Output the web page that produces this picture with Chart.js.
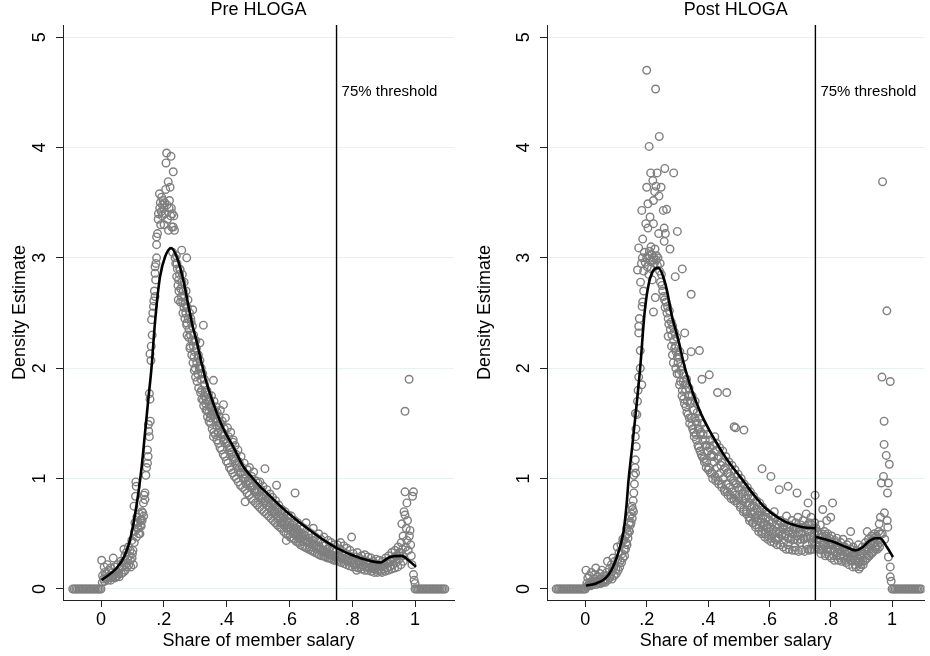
<!DOCTYPE html>
<html>
<head>
<meta charset="utf-8">
<script src="https://cdn.jsdelivr.net/npm/chart.js@4.4.1/dist/chart.umd.min.js"></script>
<style>
  html, body { margin: 0; padding: 0; background: #fff; }
  #wrap { position: relative; width: 930px; height: 656px; overflow: hidden; }
  canvas { position: absolute; top: 0; }
</style>
</head>
<body>
<div id="wrap">
  <canvas id="preChart" width="465" height="656" style="left:0"></canvas>
  <canvas id="postChart" width="465" height="656" style="left:465px"></canvas>
</div>
<script>
// tick values and the cut-off
const xTickValues = [0, 0.2, 0.4, 0.6, 0.8, 1];
const yTickValues = [0, 1, 2, 3, 4, 5];
const threshold = 0.75;
const thresholdText = "75% threshold";

// Pre HLOGA: binned density points [share, density]
const preZeroLeft = [-0.09,-0.085,-0.08,-0.075,-0.07,-0.065,-0.06,-0.055,-0.05,-0.045,-0.04,-0.035,-0.03,-0.025,-0.02,-0.015,-0.01,-0.005,0];
const preZeroRight = [1.0,1.005,1.01,1.015,1.02,1.025,1.03,1.035,1.04,1.045,1.05,1.055,1.06,1.065,1.07,1.075,1.08,1.085,1.09,1.095];
const prePoints = [
  [0.002,0.26],[0.005,0.12],[0.008,0.09],[0.01,0.2],[0.012,0.15],[0.015,0.1],[0.018,0.14],[0.02,0.22],[0.022,0.08],[0.025,0.17],
  [0.028,0.12],[0.03,0.19],[0.033,0.1],[0.036,0.15],[0.039,0.28],[0.041,0.13],[0.044,0.2],[0.047,0.11],[0.05,0.16],[0.053,0.22],
  [0.056,0.14],[0.06,0.18],[0.063,0.25],[0.066,0.2],[0.07,0.24],[0.073,0.36],[0.076,0.3],[0.078,0.22],[0.081,0.33],[0.084,0.27],
  [0.087,0.38],[0.09,0.3],[0.093,0.35],[0.095,0.2],[0.098,0.44],[0.1,0.32],[0.103,0.22],[0.105,0.75],[0.107,0.52],
  [0.108,0.6],[0.11,0.84],[0.111,0.97],[0.112,0.93],[0.114,0.65],[0.116,0.55],[0.118,0.6],[0.12,0.5],[0.122,0.68],[0.124,0.5],
  [0.125,0.62],[0.127,0.63],[0.128,0.57],[0.13,0.7],[0.133,0.69],[0.135,0.78],[0.137,0.85],[0.14,0.87],[0.14,0.81],[0.143,1.03],
  [0.145,1.1],[0.148,1.14],[0.148,1.26],[0.15,1.2],[0.151,1.49],[0.152,1.43],[0.154,1.38],[0.154,1.77],[0.156,1.72],[0.157,1.52],
  [0.159,2.07],[0.156,2.13],[0.161,2.44],[0.16,2.2],
  [0.163,2.3],[0.165,2.5],[0.167,2.56],[0.168,2.61],[0.17,2.7],[0.172,2.65],[0.172,2.92],[0.172,2.86],[0.174,2.8],[0.175,2.95],
  [0.177,3.0],[0.177,3.12],[0.177,3.19],[0.18,3.22],[0.182,3.35],[0.183,3.4],[0.186,3.58],[0.187,3.45],[0.189,3.5],[0.19,3.3],
  [0.192,3.42],[0.193,3.55],[0.195,3.38],[0.196,3.48],[0.198,3.52],[0.2,3.45],[0.201,3.3],[0.203,3.5],[0.204,3.4],[0.206,3.62],
  [0.207,3.86],[0.209,3.95],[0.21,3.48],[0.212,3.35],[0.214,3.69],[0.215,3.25],[0.217,3.45],[0.218,3.52],[0.22,3.64],[0.222,3.38],
  [0.223,3.92],[0.224,3.45],[0.225,3.28],[0.227,3.4],[0.228,3.05],[0.23,3.78],[0.23,3.28],[0.232,3.38],[0.234,3.25],[0.236,3.0],
  [0.238,2.95],[0.24,3.02],
  [0.241,2.83],[0.243,2.9],[0.245,2.75],[0.247,2.8],[0.248,2.7],[0.25,2.85],[0.252,2.89],[0.254,2.72],[0.257,3.07],[0.256,2.65],
  [0.258,2.78],[0.26,2.6],[0.262,2.7],[0.264,2.55],[0.266,2.65],[0.268,2.58],[0.27,2.5],[0.273,3.0],[0.273,2.39],[0.273,2.41],
  [0.275,2.55],[0.278,2.45],[0.28,2.35],[0.283,2.18],[0.285,2.3],[0.287,2.42],[0.29,2.25],[0.292,2.53],[0.294,2.2],[0.296,2.1],
  [0.298,2.15],[0.3,2.0],[0.302,2.25],[0.305,2.05],[0.308,1.95],[0.31,2.12],[0.313,2.0],[0.315,2.07],[0.315,2.23],[0.318,1.9],
  [0.32,1.8],[0.322,1.95],[0.326,2.39],[0.326,1.71],[0.328,1.75],[0.33,1.85],[0.333,1.68],[0.335,1.72],[0.338,1.62],[0.34,1.7],
  [0.343,1.6],[0.345,1.65],[0.348,1.55],[0.35,1.58],
  [0.352,1.75],[0.355,1.62],[0.358,1.89],[0.358,1.38],[0.36,1.7],[0.363,1.55],[0.366,1.65],[0.368,1.48],[0.37,1.6],[0.373,1.42],
  [0.376,1.56],[0.378,1.5],[0.38,1.62],[0.383,1.4],[0.386,1.52],[0.39,1.67],[0.39,1.35],[0.393,1.45],[0.396,1.55],[0.4,1.32],
  [0.403,1.46],[0.406,1.38],[0.41,1.28],[0.413,1.42],[0.416,1.22],[0.42,1.33],[0.421,1.35],[0.424,1.18],[0.427,1.3],[0.43,1.22],
  [0.433,1.12],[0.436,1.26],[0.44,1.15],[0.443,1.05],[0.446,1.2],[0.45,1.1],[0.453,1.0],[0.456,1.14],[0.459,0.79],[0.46,1.04],
  [0.463,0.95],[0.466,1.08],[0.47,0.98],[0.473,1.1],[0.476,0.92],[0.48,1.02],[0.483,0.94],[0.486,1.06],[0.49,0.88],[0.493,0.98],
  [0.496,0.9],[0.5,0.96],
  [0.503,0.85],[0.506,0.97],[0.51,0.9],[0.513,0.82],[0.516,0.93],[0.52,0.85],[0.522,1.09],[0.525,0.78],[0.528,0.9],[0.531,0.82],
  [0.535,0.75],[0.538,0.86],[0.54,0.78],[0.543,0.7],[0.546,0.83],[0.55,0.76],[0.553,0.68],[0.556,0.8],[0.559,0.94],[0.56,0.72],
  [0.563,0.64],[0.566,0.76],[0.57,0.68],[0.573,0.6],[0.576,0.72],[0.58,0.65],[0.583,0.58],[0.586,0.7],[0.59,0.44],[0.59,0.62],
  [0.593,0.55],[0.596,0.67],[0.6,0.6],[0.603,0.53],[0.606,0.66],[0.61,0.58],[0.613,0.5],[0.618,0.87],[0.616,0.62],[0.62,0.55],
  [0.623,0.48],[0.626,0.6],[0.63,0.52],[0.633,0.45],[0.636,0.57],[0.64,0.5],[0.643,0.43],[0.646,0.55],[0.65,0.48],[0.653,0.6],
  [0.656,0.42],[0.66,0.52],[0.663,0.46],[0.666,0.38],[0.67,0.5],[0.673,0.44],[0.676,0.55],[0.68,0.4],[0.683,0.47],[0.686,0.36],
  [0.69,0.43],[0.693,0.5],[0.696,0.38],[0.7,0.45],[0.703,0.34],[0.706,0.41],[0.71,0.47],[0.713,0.33],[0.716,0.4],[0.72,0.36],
  [0.723,0.44],[0.726,0.31],[0.73,0.38],[0.733,0.42],[0.736,0.3],[0.74,0.36],[0.743,0.4],[0.746,0.29],[0.75,0.35],
  [0.753,0.4],[0.756,0.3],[0.76,0.36],[0.763,0.42],[0.766,0.28],[0.77,0.34],[0.773,0.39],[0.776,0.27],[0.78,0.32],[0.783,0.37],
  [0.786,0.25],[0.79,0.3],[0.793,0.35],[0.798,0.47],[0.8,0.26],[0.803,0.32],[0.806,0.22],[0.81,0.29],[0.814,0.17],[0.816,0.33],
  [0.82,0.24],[0.823,0.28],[0.826,0.2],[0.83,0.3],[0.833,0.22],[0.836,0.26],[0.84,0.31],[0.843,0.2],[0.846,0.25],[0.85,0.29],
  [0.853,0.19],[0.856,0.24],[0.86,0.28],[0.863,0.2],[0.866,0.25],[0.87,0.18],[0.873,0.23],[0.876,0.27],[0.88,0.17],[0.883,0.22],
  [0.886,0.26],[0.89,0.16],[0.893,0.21],[0.896,0.25],[0.9,0.18],[0.903,0.22],[0.906,0.28],[0.91,0.19],[0.913,0.24],[0.916,0.3],
  [0.92,0.2],[0.923,0.26],[0.926,0.33],[0.93,0.22],[0.933,0.28],[0.936,0.35],[0.94,0.24],[0.943,0.3],[0.946,0.38],[0.95,0.27],
  [0.953,0.33],[0.956,0.42],[0.958,0.59],[0.96,0.3],[0.962,0.48],[0.965,0.7],[0.968,0.67],[0.968,0.88],[0.968,1.61],[0.97,0.38],
  [0.972,0.55],[0.974,0.78],[0.974,0.44],[0.976,0.62],[0.978,0.35],[0.981,1.9],[0.982,0.48],[0.984,0.53],[0.986,0.4],[0.988,0.3],
  [0.99,0.22],[0.992,0.84],[0.995,0.88],[0.995,0.13],[0.997,0.08],[1.0,0.05]
];
// Pre HLOGA: the densely overlapping bins inside the main band
const preBand = [
  [0.004,0.06],[0.011,0.07],[0.017,0.09],[0.024,0.1],[0.031,0.08],[0.038,0.11],[0.045,0.1],[0.052,0.12],[0.058,0.11],[0.065,0.14],
  [0.071,0.15],[0.077,0.17],[0.083,0.2],[0.089,0.22],[0.094,0.26],[0.099,0.28],[0.102,0.35],[0.106,0.42],[0.113,0.47],[0.119,0.55],
  [0.126,0.58],[0.131,0.62],[0.136,0.66],
  [0.242,2.95],[0.246,2.62],[0.251,2.9],[0.253,2.6],[0.259,2.85],[0.261,2.5],[0.265,2.78],[0.267,2.45],[0.271,2.7],[0.274,2.3],
  [0.277,2.62],[0.279,2.28],[0.282,2.5],[0.284,2.2],[0.286,2.45],[0.289,2.12],[0.291,2.38],[0.293,2.05],[0.295,2.3],[0.297,1.98],
  [0.299,2.25],[0.301,1.92],[0.304,2.18],[0.306,1.88],[0.309,2.1],[0.311,1.82],[0.314,2.02],[0.317,1.78],[0.319,2.0],[0.321,1.72],
  [0.324,1.95],[0.327,1.66],[0.329,1.9],[0.332,1.78],[0.334,1.62],[0.337,1.8],[0.339,1.56],[0.342,1.76],[0.344,1.52],[0.347,1.7],
  [0.349,1.5],
  [0.351,1.65],[0.354,1.45],[0.357,1.58],[0.359,1.42],[0.362,1.62],[0.364,1.4],[0.367,1.58],[0.369,1.35],[0.372,1.52],[0.374,1.32],
  [0.377,1.48],[0.379,1.28],[0.382,1.5],[0.384,1.26],[0.387,1.42],[0.389,1.22],[0.392,1.4],[0.394,1.2],[0.397,1.36],[0.399,1.16],
  [0.402,1.33],[0.404,1.14],[0.407,1.3],[0.409,1.1],[0.412,1.26],[0.414,1.08],[0.417,1.24],[0.419,1.05],[0.422,1.2],[0.425,1.02],
  [0.428,1.16],[0.431,1.0],[0.434,1.14],[0.437,0.97],[0.441,1.1],[0.444,0.94],[0.447,1.06],[0.451,0.92],[0.454,1.04],[0.458,0.9],
  [0.461,1.0],[0.465,0.87],[0.468,0.98],[0.472,0.85],[0.475,0.96],[0.479,0.82],[0.482,0.93],[0.485,0.8],[0.489,0.9],[0.492,0.78],
  [0.495,0.88],[0.498,0.76],
  [0.502,0.88],[0.505,0.74],[0.509,0.84],[0.512,0.72],[0.515,0.82],[0.519,0.7],[0.523,0.8],[0.527,0.68],[0.53,0.76],[0.534,0.66],
  [0.537,0.74],[0.541,0.64],[0.545,0.72],[0.548,0.62],[0.552,0.7],[0.555,0.6],[0.558,0.68],[0.562,0.58],[0.565,0.66],[0.569,0.56],
  [0.572,0.64],[0.575,0.55],[0.579,0.62],[0.582,0.52],[0.585,0.6],[0.589,0.5],[0.592,0.58],[0.595,0.49],[0.599,0.56],[0.602,0.47],
  [0.605,0.55],[0.609,0.46],[0.612,0.53],[0.615,0.45],[0.619,0.51],[0.622,0.43],[0.625,0.5],[0.629,0.42],[0.632,0.48],[0.635,0.4],
  [0.639,0.47],[0.642,0.39],[0.645,0.45],[0.649,0.38],[0.652,0.44],[0.655,0.37],[0.659,0.43],[0.662,0.36],[0.665,0.42],[0.669,0.35],
  [0.672,0.4],[0.675,0.34],[0.679,0.39],[0.682,0.33],[0.685,0.38],[0.689,0.32],[0.692,0.37],[0.695,0.31],[0.699,0.36],[0.702,0.3],
  [0.705,0.35],[0.709,0.3],[0.712,0.34],[0.715,0.29],[0.719,0.33],[0.722,0.28],[0.725,0.32],[0.729,0.28],[0.732,0.31],[0.735,0.27],
  [0.739,0.3],[0.742,0.26],[0.745,0.3],[0.749,0.26],
  [0.752,0.3],[0.757,0.25],[0.761,0.29],[0.765,0.24],[0.769,0.28],[0.774,0.23],[0.778,0.27],[0.782,0.22],[0.787,0.26],[0.791,0.21],
  [0.796,0.25],[0.801,0.2],[0.805,0.24],[0.81,0.2],[0.815,0.23],[0.82,0.19],[0.825,0.22],[0.83,0.18],[0.835,0.21],[0.84,0.17],
  [0.845,0.2],[0.85,0.17],[0.855,0.19],[0.86,0.16],[0.865,0.19],[0.87,0.15],[0.875,0.19],[0.88,0.15],[0.885,0.18],[0.89,0.2],
  [0.895,0.15],[0.9,0.22],[0.905,0.16],[0.91,0.23],[0.915,0.17],[0.92,0.25],[0.925,0.18],[0.93,0.27],[0.935,0.19],[0.94,0.3],
  [0.945,0.2],[0.95,0.33],[0.955,0.22],[0.96,0.36],[0.963,0.25]
];
// Pre HLOGA smoothed density
const preCurve = [
  [0.002,0.08],[0.05,0.19],[0.075,0.3],[0.092,0.44],[0.105,0.62],[0.119,0.87],[0.13,1.12],[0.14,1.41],[0.15,1.7],[0.161,2.01],
  [0.17,2.35],[0.178,2.6],[0.188,2.83],[0.204,3.01],[0.223,3.09],[0.241,3.01],[0.262,2.8],[0.276,2.6],[0.292,2.38],[0.305,2.24],
  [0.32,2.05],[0.337,1.86],[0.368,1.6],[0.39,1.45],[0.421,1.29],[0.453,1.11],[0.475,1.03],[0.506,0.93],[0.528,0.87],[0.591,0.7],
  [0.666,0.53],[0.751,0.37],[0.825,0.28],[0.889,0.24],[0.92,0.29],[0.958,0.3],[0.979,0.26],[1.003,0.2]
];

// Post HLOGA: binned density points [share, density]
const postZeroLeft = [-0.095,-0.09,-0.085,-0.08,-0.075,-0.07,-0.065,-0.06,-0.055,-0.05,-0.045,-0.04,-0.035,-0.03,-0.025,-0.02,-0.015,-0.01,-0.005,0];
const postZeroRight = [1.0,1.005,1.01,1.015,1.02,1.025,1.03,1.035,1.04,1.045,1.05,1.055,1.06,1.065,1.07,1.075,1.08,1.085,1.09,1.095];
const postPoints = [
  [0.002,0.17],[0.005,0.05],[0.008,0.1],[0.01,0.03],[0.013,0.12],[0.016,0.06],[0.02,0.15],[0.023,0.04],[0.026,0.09],[0.03,0.13],
  [0.034,0.19],[0.037,0.07],[0.04,0.11],[0.044,0.05],[0.047,0.14],[0.05,0.09],[0.054,0.17],[0.057,0.06],[0.06,0.12],[0.064,0.08],
  [0.067,0.09],[0.07,0.15],[0.072,0.25],[0.075,0.11],[0.078,0.18],[0.082,0.13],[0.085,0.22],[0.088,0.16],[0.09,0.28],[0.093,0.2],
  [0.096,0.25],[0.1,0.18],[0.104,0.38],[0.106,0.27],[0.11,0.33],[0.113,0.25],[0.116,0.4],[0.12,0.32],[0.122,0.45],[0.125,0.44],
  [0.127,0.36],
  [0.13,0.48],[0.133,0.42],[0.135,0.55],[0.138,0.5],[0.141,0.53],[0.143,0.6],[0.145,0.66],[0.147,0.58],[0.15,0.68],[0.152,0.75],
  [0.154,0.72],[0.156,0.8],[0.158,0.87],[0.158,1.03],[0.16,0.95],[0.162,1.1],[0.163,1.17],[0.164,1.05],[0.166,1.29],[0.163,1.38],
  [0.165,1.45],[0.163,1.59],[0.168,1.58],[0.17,1.7],[0.172,1.8],[0.174,1.92],[0.179,2.0],[0.179,2.16],[0.184,1.85],[0.174,2.32],
  [0.174,2.38],[0.176,2.45],[0.185,2.56],[0.187,2.6],[0.19,2.7],[0.17,2.89],[0.174,3.09],[0.187,3.17],[0.184,3.43],[0.18,2.78],
  [0.183,2.95],[0.186,3.0],[0.19,2.88],[0.192,3.05],[0.195,2.96],[0.197,3.31],[0.2,3.64],[0.2,4.7],[0.2,3.0],
  [0.202,2.92],[0.204,3.27],[0.204,3.49],[0.205,3.02],[0.207,2.85],[0.208,4.01],[0.209,3.06],[0.211,3.37],[0.212,2.97],[0.213,3.77],
  [0.214,3.1],[0.215,2.9],[0.217,3.03],[0.218,2.8],[0.22,3.7],[0.22,2.98],[0.222,3.52],[0.222,3.31],[0.222,2.51],[0.223,3.0],
  [0.225,2.95],[0.226,3.6],[0.227,3.08],[0.228,2.64],[0.229,4.53],[0.23,3.65],[0.231,2.98],[0.232,3.02],[0.234,3.77],[0.235,2.93],
  [0.237,3.0],[0.239,3.22],[0.24,3.56],[0.241,4.1],[0.242,2.88],[0.244,2.95],[0.245,2.78],[0.247,3.64],[0.248,2.85],[0.25,2.75],
  [0.252,2.7],[0.254,3.43],[0.255,2.65],[0.257,3.27],[0.257,3.15],[0.258,2.62],[0.259,3.81],[0.26,2.55],[0.261,3.22],[0.263,2.6],
  [0.265,3.44],[0.266,2.5],[0.268,2.56],[0.27,2.29],[0.27,2.45],[0.272,2.4],[0.274,2.52],[0.276,3.08],[0.277,2.35],[0.28,2.42],
  [0.282,2.3],[0.285,2.38],[0.288,3.77],[0.288,2.25],[0.29,2.33],[0.293,2.83],[0.294,2.2],[0.296,2.15],[0.298,2.28],[0.3,3.24],
  [0.3,2.1],
  [0.302,2.05],[0.305,1.95],[0.308,2.15],[0.31,1.88],[0.313,2.02],[0.316,2.9],[0.316,1.8],[0.318,1.95],[0.32,1.72],[0.322,2.1],
  [0.324,2.32],[0.325,1.85],[0.328,1.65],[0.33,1.9],[0.333,1.7],[0.335,1.58],[0.338,1.82],[0.34,1.5],[0.342,1.68],[0.345,2.15],
  [0.345,2.67],[0.346,1.55],[0.348,1.75],[0.35,1.45],[0.353,1.62],[0.355,1.38],[0.358,1.7],[0.36,1.52],[0.362,1.35],[0.365,1.6],
  [0.368,1.45],[0.37,1.28],[0.372,2.16],[0.372,1.55],[0.375,1.4],[0.378,1.22],[0.38,1.9],[0.38,1.5],[0.383,1.35],[0.386,1.18],
  [0.39,1.45],[0.392,1.3],[0.395,1.15],[0.398,1.4],[0.4,1.25],[0.403,1.1],[0.404,1.94],[0.406,1.35],[0.41,1.2],[0.413,1.05],
  [0.416,1.3],[0.42,1.15],[0.423,1.02],[0.426,1.25],[0.43,1.1],[0.431,1.78],[0.433,0.98],[0.436,1.2],[0.44,1.05],[0.443,0.95],
  [0.446,1.15],[0.45,1.0],[0.453,0.9],[0.456,1.1],[0.46,0.95],[0.461,1.78],[0.463,0.88],[0.466,1.05],[0.47,0.92],[0.473,0.85],
  [0.476,1.0],[0.48,0.88],[0.483,0.82],[0.485,1.47],[0.486,0.96],[0.49,0.85],[0.49,1.46],[0.493,0.8],[0.496,0.92],[0.5,0.82],
  [0.503,0.98],[0.506,0.76],[0.51,0.9],[0.513,0.8],[0.517,1.44],[0.516,0.72],[0.52,0.88],[0.523,0.78],[0.526,0.7],[0.53,0.85],
  [0.533,0.65],[0.536,0.76],[0.538,0.64],[0.54,0.82],[0.543,0.68],[0.546,0.6],[0.55,0.75],[0.553,0.65],[0.556,0.58],[0.56,0.72],
  [0.563,0.62],[0.566,0.55],[0.57,0.7],[0.573,0.6],[0.576,1.09],[0.576,0.52],[0.58,0.66],[0.583,0.57],[0.586,0.5],[0.59,0.65],
  [0.593,0.55],[0.596,0.48],[0.6,0.62],[0.603,0.52],[0.605,1.02],[0.606,0.46],[0.61,0.6],[0.613,0.5],[0.616,0.7],[0.62,0.45],
  [0.624,0.44],[0.626,0.58],[0.629,0.46],[0.632,0.9],[0.632,0.52],[0.636,0.62],[0.64,0.48],[0.643,0.55],[0.646,0.42],[0.65,0.6],
  [0.653,0.5],[0.656,0.66],[0.66,0.4],[0.661,0.93],[0.663,0.52],[0.666,0.58],[0.67,0.45],[0.673,0.62],[0.676,0.5],[0.68,0.55],
  [0.683,0.38],[0.686,0.6],[0.69,0.87],[0.69,0.48],[0.693,0.65],[0.696,0.52],[0.7,0.42],[0.703,0.58],[0.706,0.5],[0.71,0.62],
  [0.713,0.45],[0.716,0.55],[0.72,0.68],[0.723,0.4],[0.726,0.78],[0.726,0.52],[0.73,0.6],[0.731,0.35],[0.733,0.48],[0.736,0.65],
  [0.74,0.42],[0.743,0.55],[0.746,0.5],[0.749,0.85],[0.75,0.4],
  [0.752,0.55],[0.755,0.45],[0.758,0.38],[0.76,0.5],[0.763,0.42],[0.766,0.58],[0.77,0.35],[0.773,0.48],[0.774,0.72],[0.776,0.4],
  [0.78,0.52],[0.783,0.32],[0.786,0.45],[0.787,0.62],[0.79,0.34],[0.79,0.5],[0.793,0.4],[0.796,0.46],[0.8,0.65],[0.8,0.36],
  [0.803,0.48],[0.806,0.78],[0.806,0.42],[0.81,0.3],[0.813,0.44],[0.816,0.38],[0.82,0.46],[0.823,0.33],[0.826,0.4],[0.83,0.28],
  [0.833,0.42],[0.836,0.35],[0.84,0.45],[0.843,0.3],[0.846,0.38],[0.85,0.26],[0.853,0.4],[0.856,0.33],[0.86,0.42],[0.863,0.28],
  [0.865,0.52],[0.866,0.36],[0.87,0.25],[0.873,0.38],[0.876,0.3],[0.88,0.22],[0.883,0.35],[0.886,0.28],[0.89,0.4],[0.893,0.24],
  [0.896,0.32],[0.897,0.2],[0.9,0.28],[0.903,0.38],[0.906,0.22],[0.91,0.34],[0.913,0.42],[0.916,0.28],[0.919,0.52],[0.92,0.36],
  [0.923,0.45],[0.926,0.3],[0.93,0.4],[0.933,0.48],[0.936,0.33],[0.94,0.42],[0.943,0.5],[0.946,0.36],[0.95,0.45],[0.953,0.4],
  [0.956,0.52],[0.958,0.59],[0.96,0.42],[0.962,0.65],[0.965,0.96],[0.967,1.92],[0.968,0.5],[0.972,1.02],[0.974,1.52],[0.974,1.31],
  [0.975,0.69],[0.976,0.45],[0.981,1.21],[0.984,0.62],[0.985,0.87],[0.986,0.56],[0.988,0.96],[0.988,0.29],[0.991,1.13],[0.994,1.88],
  [0.994,0.2],[0.994,0.11],[0.997,0.07],[0.969,3.69],[0.983,2.52]
];
// Post HLOGA: the densely overlapping bins inside the main band
const postBand = [
  [0.004,0.02],[0.012,0.04],[0.019,0.03],[0.027,0.05],[0.035,0.04],[0.042,0.06],[0.05,0.05],[0.058,0.07],[0.065,0.06],[0.073,0.08],
  [0.08,0.1],[0.087,0.09],[0.094,0.12],[0.101,0.14],[0.107,0.17],[0.112,0.2],[0.118,0.24],[0.123,0.28],[0.128,0.3],[0.131,0.36],
  [0.136,0.4],[0.139,0.46],[0.144,0.52],[0.149,0.6],[0.153,0.64],[0.157,0.7],
  [0.281,2.2],[0.284,2.12],[0.287,2.05],[0.291,2.18],[0.295,2.0],[0.299,1.95],[0.303,2.12],[0.307,1.85],[0.311,1.98],[0.315,1.75],
  [0.319,1.88],[0.323,1.68],[0.327,1.8],[0.331,1.6],[0.336,1.75],[0.339,1.55],[0.343,1.7],[0.347,1.48],[0.351,1.62],[0.354,1.42],
  [0.357,1.55],[0.361,1.4],[0.364,1.5],[0.367,1.3],[0.371,1.45],[0.374,1.25],[0.377,1.42],[0.381,1.2],[0.384,1.4],[0.388,1.15],
  [0.391,1.35],[0.394,1.1],[0.397,1.3],[0.401,1.08],[0.405,1.28],[0.408,1.05],[0.411,1.22],[0.415,1.0],[0.418,1.2],[0.422,1.38],
  [0.425,0.98],[0.428,1.32],[0.432,1.18],[0.435,0.95],[0.438,1.28],[0.442,1.12],[0.445,0.92],[0.448,1.25],[0.452,1.08],[0.455,0.88],
  [0.458,1.2],[0.462,1.05],[0.465,0.85],[0.468,1.15],[0.472,1.02],[0.475,0.82],[0.478,1.12],[0.482,0.98],[0.485,0.8],[0.488,1.08],
  [0.492,0.95],[0.495,0.78],[0.498,1.04],
  [0.502,0.9],[0.505,0.74],[0.508,1.0],[0.512,0.86],[0.515,0.7],[0.518,0.95],[0.522,0.82],[0.525,0.68],[0.528,0.92],[0.532,0.78],
  [0.535,0.62],[0.538,0.88],[0.542,0.74],[0.545,0.6],[0.548,0.84],[0.552,0.7],[0.555,0.56],[0.558,0.8],[0.562,0.67],[0.565,0.52],
  [0.568,0.78],[0.572,0.64],[0.575,0.5],[0.578,0.74],[0.582,0.6],[0.585,0.47],[0.588,0.7],[0.592,0.58],[0.595,0.45],[0.598,0.68],
  [0.602,0.56],[0.605,0.43],[0.608,0.66],[0.612,0.54],[0.615,0.42],[0.618,0.64],[0.622,0.52],[0.625,0.4],[0.628,0.62],[0.632,0.5],
  [0.635,0.4],[0.638,0.6],[0.642,0.5],[0.645,0.38],[0.648,0.58],[0.652,0.48],[0.655,0.36],[0.658,0.56],[0.662,0.46],[0.665,0.36],
  [0.668,0.56],[0.672,0.47],[0.675,0.35],[0.678,0.55],[0.682,0.45],[0.685,0.35],[0.688,0.56],[0.692,0.44],[0.695,0.34],[0.698,0.55],
  [0.702,0.45],[0.705,0.35],[0.708,0.56],[0.712,0.46],[0.715,0.34],[0.718,0.57],[0.722,0.47],[0.725,0.36],[0.728,0.58],[0.732,0.46],
  [0.735,0.36],[0.738,0.58],[0.742,0.47],[0.745,0.36],[0.748,0.6],
  [0.754,0.4],[0.757,0.52],[0.761,0.36],[0.764,0.46],[0.768,0.32],[0.771,0.5],[0.775,0.36],[0.778,0.44],[0.782,0.3],[0.785,0.48],
  [0.789,0.36],[0.792,0.44],[0.795,0.3],[0.799,0.42],[0.802,0.28],[0.805,0.4],[0.809,0.34],[0.812,0.26],[0.815,0.42],[0.819,0.3],
  [0.822,0.38],[0.825,0.26],[0.829,0.36],[0.832,0.3],[0.835,0.25],[0.839,0.38],[0.842,0.28],[0.845,0.34],[0.849,0.24],[0.852,0.35],
  [0.855,0.28],[0.859,0.22],[0.862,0.34],[0.865,0.26],[0.869,0.3],[0.872,0.2],[0.875,0.33],[0.879,0.26],[0.882,0.2],[0.885,0.3],
  [0.889,0.24],[0.892,0.18],[0.895,0.3],[0.899,0.22],[0.902,0.33],[0.905,0.25],[0.909,0.36],[0.912,0.26],[0.915,0.38],[0.919,0.28],
  [0.922,0.4],[0.925,0.3],[0.929,0.42],[0.932,0.32],[0.935,0.44],[0.939,0.34],[0.942,0.46],[0.945,0.38],[0.949,0.48],[0.952,0.36],
  [0.955,0.44],[0.959,0.38],[0.962,0.5]
];
// Post HLOGA smoothed density, split at the threshold
const postCurveBelow = [
  [0.002,0.03],[0.035,0.05],[0.067,0.1],[0.085,0.17],[0.099,0.26],[0.113,0.38],[0.125,0.53],[0.134,0.75],[0.141,0.99],[0.152,1.27],
  [0.163,1.56],[0.179,2.01],[0.193,2.5],[0.205,2.74],[0.22,2.88],[0.238,2.91],[0.255,2.82],[0.268,2.68],[0.28,2.5],[0.302,2.27],
  [0.324,2.01],[0.35,1.78],[0.375,1.6],[0.4,1.46],[0.431,1.31],[0.46,1.18],[0.495,1.05],[0.517,0.97],[0.55,0.85],[0.581,0.75],
  [0.645,0.62],[0.71,0.56],[0.75,0.55]
];
const postCurveAbove = [
  [0.752,0.47],[0.806,0.43],[0.85,0.38],[0.881,0.35],[0.905,0.38],[0.924,0.43],[0.945,0.46],[0.961,0.46],[0.983,0.38],[1.003,0.29]
];

const FONT = "'Liberation Sans', Arial, Helvetica, sans-serif";
const GREY = '#7f7f7f';

function toXY(pairs) { return pairs.map(p => ({x: p[0], y: p[1]})); }
function zeros(xs) { return xs.map(v => ({x: v, y: 0})); }

const thresholdLabel = {
  id: 'thresholdLabel',
  afterDatasetsDraw(chart) {
    const ctx = chart.ctx;
    const xs = chart.scales.x, ys = chart.scales.y;
    ctx.save();
    ctx.font = '15px ' + FONT;
    ctx.fillStyle = '#000';
    ctx.textBaseline = 'middle';
    ctx.fillText(thresholdText, xs.getPixelForValue(threshold) + 5, ys.getPixelForValue(4.5));
    ctx.restore();
  }
};

function makeChart(id, title, points, zeroL, zeroR, curves, xMin, xMax, yAxisWidth, padRight) {
  const ctx = document.getElementById(id).getContext('2d');
  const datasets = [{
    type: 'scatter',
    data: zeros(zeroL).concat(toXY(points), zeros(zeroR)),
    pointStyle: 'circle',
    pointRadius: 3.8,
    pointBorderWidth: 1.4,
    pointBorderColor: GREY,
    pointBackgroundColor: 'rgba(0,0,0,0)',
    order: 3
  }];
  curves.forEach(c => {
    datasets.push({
      type: 'line',
      data: toXY(c),
      borderColor: '#000',
      borderWidth: 2.6,
      pointRadius: 0,
      cubicInterpolationMode: 'monotone',
      fill: false,
      order: 1
    });
  });
  datasets.push({
    type: 'line',
    data: [{x: threshold, y: -0.1}, {x: threshold, y: 5.11}],
    borderColor: '#000',
    borderWidth: 1.4,
    pointRadius: 0,
    order: 2
  });

  return new Chart(ctx, {
    type: 'scatter',
    data: {datasets: datasets},
    options: {
      responsive: false,
      animation: false,
      devicePixelRatio: 1,
      events: [],
      layout: {padding: {left: 0, right: padRight, top: 0, bottom: 0}},
      plugins: {
        legend: {display: false},
        tooltip: {enabled: false},
        title: {
          display: true,
          text: title,
          fullSize: false,
          color: '#000',
          font: {family: FONT, size: 18, weight: 'normal', lineHeight: 1},
          padding: {top: 1, bottom: 6}
        }
      },
      scales: {
        x: {
          type: 'linear',
          min: xMin,
          max: xMax,
          afterBuildTicks: s => { s.ticks = xTickValues.map(v => ({value: v})); },
          afterFit: s => { s.height = 56; },
          ticks: {
            color: '#000',
            padding: 2,
            maxRotation: 0,
            font: {family: FONT, size: 18},
            callback: v => (v === 0 || v === 1) ? String(v) : String(v).replace('0.', '.')
          },
          grid: {drawOnChartArea: false, drawTicks: true, tickLength: 7, tickColor: '#222'},
          border: {display: true, color: '#222', width: 1},
          title: {
            display: true,
            text: 'Share of member salary',
            color: '#000',
            font: {family: FONT, size: 18, lineHeight: 1.2},
            padding: {top: 0, bottom: 4}
          }
        },
        y: {
          type: 'linear',
          min: -0.1,
          max: 5.11,
          afterBuildTicks: s => { s.ticks = yTickValues.map(v => ({value: v})); },
          afterFit: s => { s.width = yAxisWidth; },
          ticks: {
            color: '#000',
            padding: 11,
            minRotation: 90,
            maxRotation: 90,
            crossAlign: 'center',
            font: {family: FONT, size: 18}
          },
          grid: {color: '#e8f0f2', lineWidth: 1, drawTicks: true, tickLength: 7, tickColor: '#222'},
          border: {display: true, color: '#222', width: 1},
          title: {
            display: true,
            text: 'Density Estimate',
            color: '#000',
            font: {family: FONT, size: 18, lineHeight: 1.2},
            padding: {top: 9, bottom: 0}
          }
        }
      }
    },
    plugins: [thresholdLabel]
  });
}

makeChart('preChart', 'Pre HLOGA', prePoints.concat(preBand), preZeroLeft, preZeroRight, [preCurve], -0.121, 1.124, 63, 11);
makeChart('postChart', 'Post HLOGA', postPoints.concat(postBand), postZeroLeft, postZeroRight, [postCurveBelow, postCurveAbove], -0.125, 1.106, 82, 0);
</script>
</body>
</html>
